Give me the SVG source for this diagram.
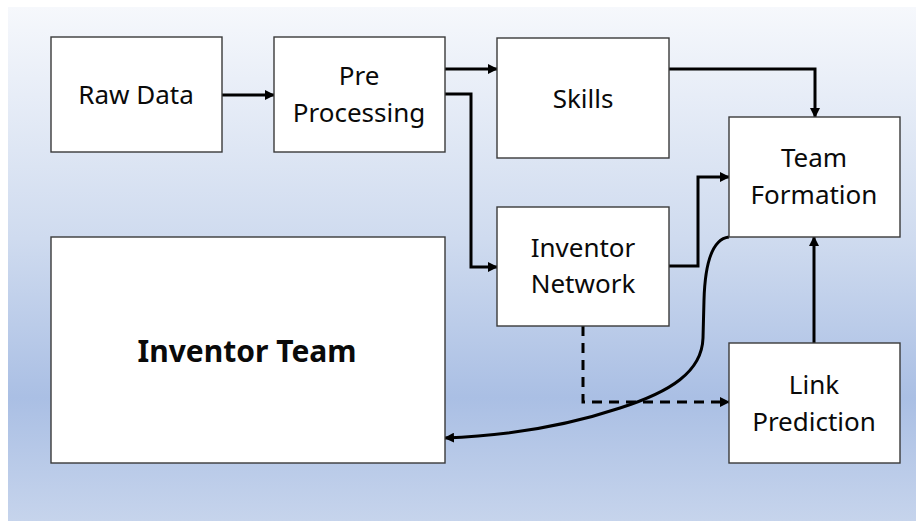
<svg xmlns="http://www.w3.org/2000/svg" width="916" height="521" viewBox="0 0 916 521">
  <defs>
    <linearGradient id="bg" x1="0" y1="0" x2="0" y2="1">
      <stop offset="0" stop-color="#f6f8fc"/>
      <stop offset="0.45" stop-color="#cfdbef"/>
      <stop offset="0.76" stop-color="#aabfe4"/>
      <stop offset="1" stop-color="#c6d4ec"/>
    </linearGradient>
    <marker id="arrow" viewBox="0 0 10 10" refX="9" refY="5" markerWidth="10" markerHeight="10" markerUnits="userSpaceOnUse" orient="auto">
      <path d="M0,0 L10,5 L0,10 z" fill="#000"/>
    </marker>
  </defs>
  <style>
    .box { fill: #ffffff; stroke: #3a3a3a; stroke-width: 1.4; }
    .label { font-family: "Noto Sans", "Open Sans", sans-serif; font-size: 26px; fill: #0a0a0a; text-anchor: middle; }
    .big { font-family: "Noto Sans", "Open Sans", sans-serif; font-size: 30px; font-weight: bold; fill: #0a0a0a; text-anchor: middle; }
    .link { fill: none; stroke: #000; stroke-width: 3; marker-end: url(#arrow); }
    .dashed { stroke-dasharray: 10 7; }
  </style>

  <rect x="8" y="7" width="908" height="514" fill="url(#bg)"/>

  <g id="connectors">
    <path class="link" d="M222,95 L274,95"/>
    <path class="link" d="M445,69 L497,69"/>
    <path class="link" d="M445,94 L471,94 L471,267 L497,267"/>
    <path class="link" d="M669,69 L815,69 L815,117"/>
    <path class="link" d="M669,266 L698,266 L698,177 L729,177"/>
    <path class="link" d="M814,343 L814,237"/>
    <path class="link dashed" d="M583,326 L583,402 L729,402"/>
    <path class="link" d="M729,237 C712,239 705,265 704,300 L703,338 C702,372 670,392 620,408 C560,428 500,436 445,438"/>
  </g>

  <g id="raw-data">
    <rect class="box" x="51" y="37" width="171" height="115"/>
    <text class="label" x="136" y="104">Raw Data</text>
  </g>
  <g id="pre-processing">
    <rect class="box" x="274" y="37" width="171" height="115"/>
    <text class="label" x="359" y="85">Pre</text>
    <text class="label" x="359" y="122">Processing</text>
  </g>
  <g id="skills">
    <rect class="box" x="497" y="38" width="172" height="120"/>
    <text class="label" x="583" y="108">Skills</text>
  </g>
  <g id="inventor-network">
    <rect class="box" x="497" y="207" width="172" height="119"/>
    <text class="label" x="583" y="257">Inventor</text>
    <text class="label" x="583" y="293">Network</text>
  </g>
  <g id="team-formation">
    <rect class="box" x="729" y="117" width="171" height="120"/>
    <text class="label" x="814" y="167">Team</text>
    <text class="label" x="814" y="204">Formation</text>
  </g>
  <g id="link-prediction">
    <rect class="box" x="729" y="343" width="171" height="120"/>
    <text class="label" x="814" y="394">Link</text>
    <text class="label" x="814" y="431">Prediction</text>
  </g>
  <g id="inventor-team">
    <rect class="box" x="51" y="237" width="394" height="226"/>
    <text class="big" x="247" y="362">Inventor Team</text>
  </g>
</svg>
